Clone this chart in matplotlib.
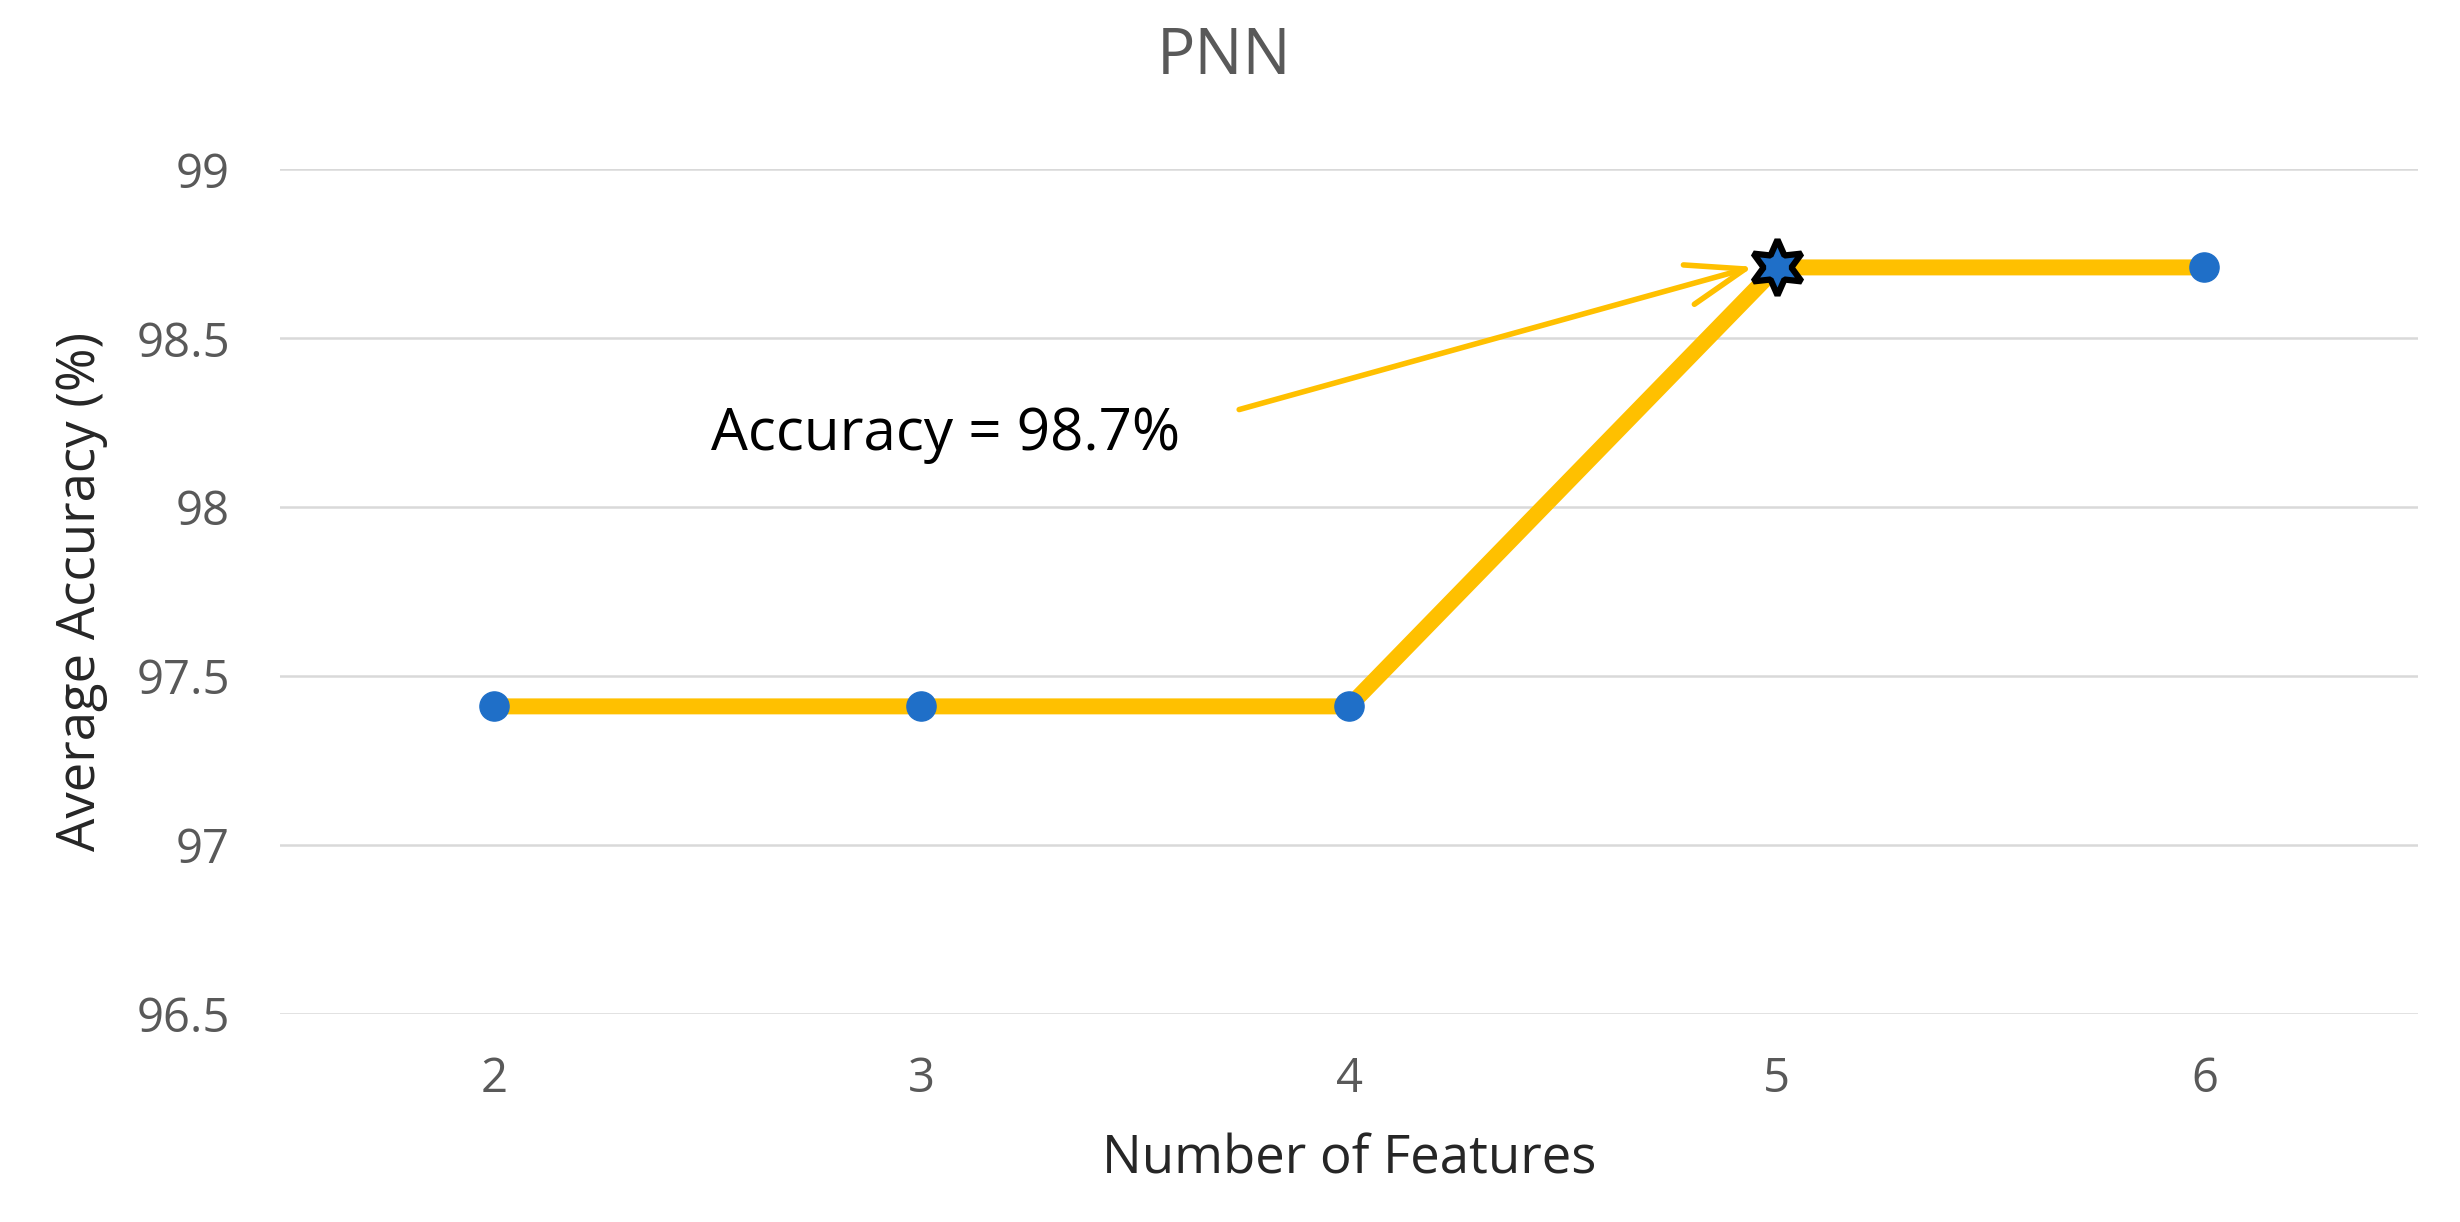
import numpy as np
import matplotlib.pyplot as plt


# =========================
# Data
# =========================
num_features = [2, 3, 4, 5, 6]
avg_accuracy = [97.41, 97.41, 97.41, 98.71, 98.71]
best_index = 3
y_ticks = [96.5, 97, 97.5, 98, 98.5, 99]
y_tick_labels = ["96.5", "97", "97.5", "98", "98.5", "99"]
note_text = "Accuracy = 98.7%"


LINE_COLOR = "#FFC000"
MARKER_COLOR = "#1F6FC8"
GRID_COLOR = "#D9D9D9"
TICK_COLOR = "#595959"
LABEL_COLOR = "#262626"

plt.rcParams["font.family"] = ["Open Sans", "DejaVu Sans"]

fig = plt.figure(figsize=(24.6, 12.22), dpi=100)
ax = fig.add_axes([0.1138, 0.1705, 0.8692, 0.6908])

ax.plot(num_features, avg_accuracy, color=LINE_COLOR, linewidth=11.5,
        solid_capstyle="butt", zorder=2)
ax.plot(num_features, avg_accuracy, linestyle="none", marker="o",
        markersize=21, color=MARKER_COLOR, zorder=3)

# highlighted best point
ax.plot(num_features[best_index], avg_accuracy[best_index], linestyle="none",
        marker=(6, 1, 0), markersize=40, markerfacecolor=MARKER_COLOR,
        markeredgecolor="black", markeredgewidth=4.5, zorder=4)

# annotation arrow + text
ax.annotate("", xy=(4.945, 98.712), xytext=(3.743, 98.289),
            arrowprops=dict(arrowstyle="->,head_length=1.0,head_width=0.35",
                            color=LINE_COLOR, lw=4, mutation_scale=42,
                            shrinkA=0, shrinkB=0),
            zorder=5)
ax.text(2.508, 98.169, note_text, fontsize=42, color="black",
        ha="left", va="baseline", zorder=5)

ax.set_xlim(1.5, 6.5)
ax.set_ylim(96.5, 99)
ax.set_xticks(num_features)
ax.set_xticklabels([str(n) for n in num_features])
ax.set_yticks(y_ticks)
ax.set_yticklabels(y_tick_labels)

ax.grid(True, axis="y", color=GRID_COLOR, linewidth=1.8, zorder=0)
ax.set_axisbelow(True)
for s in ax.spines.values():
    s.set_visible(False)

ax.tick_params(axis="both", length=0, labelsize=34, labelcolor=TICK_COLOR)
ax.tick_params(axis="x", pad=30)
ax.tick_params(axis="y", pad=36)

ax.set_xlabel("Number of Features", fontsize=38, color=LABEL_COLOR, labelpad=22)
ax.set_ylabel("Average Accuracy (%)", fontsize=38, color=LABEL_COLOR, labelpad=20)

fig.text(0.4976, 0.9394, "PNN", fontsize=46, color=TICK_COLOR,
         ha="center", va="baseline")

fig.savefig("out.png", dpi=100)
